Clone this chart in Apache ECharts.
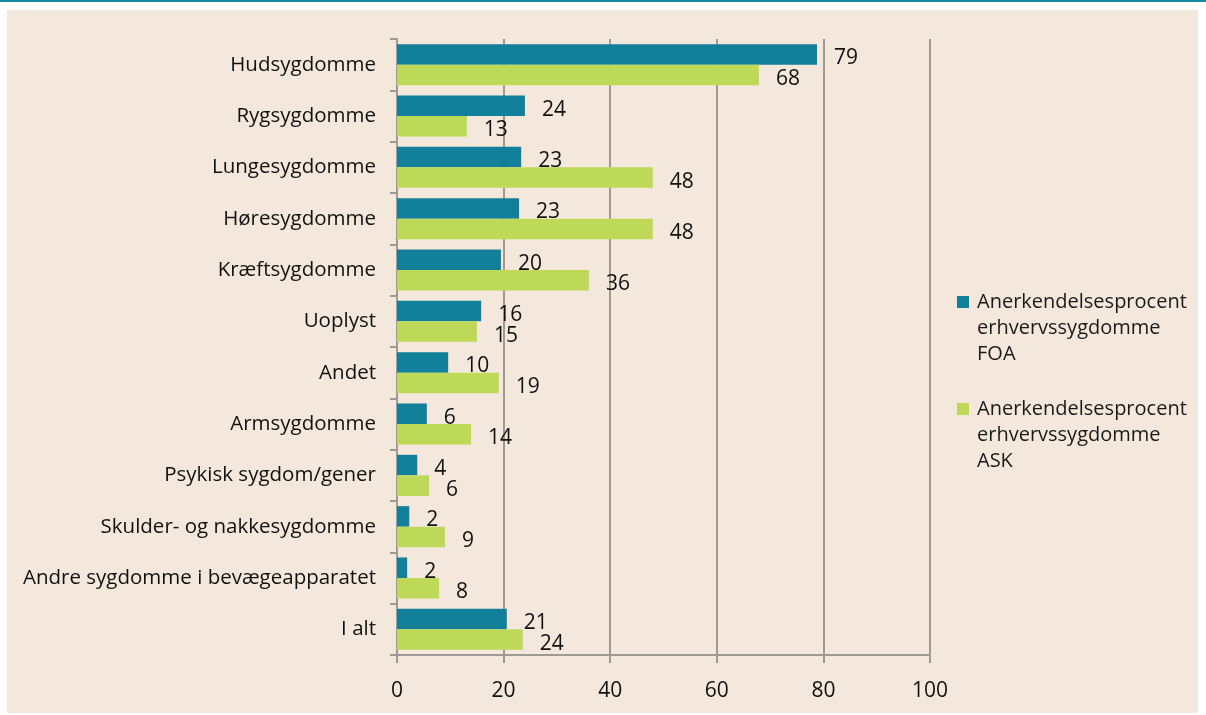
<!DOCTYPE html>
<html>
<head>
<meta charset="utf-8">
<script src="https://cdn.jsdelivr.net/npm/echarts@6/dist/echarts.min.js"></script>
<style>
  html, body { margin: 0; padding: 0; background: #fff; }
  #topline { position: absolute; left: 0; top: 0; width: 1206px; height: 2px; background: #1a8aa2; }
  #main { position: absolute; left: 7px; top: 10px; width: 1191px; height: 703px; background: #f4e8dc; }
</style>
</head>
<body>
<div id="topline"></div>
<div id="main"></div>
<script>
// kategorier (oppefra og ned)
var categories = ["Hudsygdomme", "Rygsygdomme", "Lungesygdomme", "Høresygdomme", "Kræftsygdomme",
    "Uoplyst", "Andet", "Armsygdomme", "Psykisk sygdom/gener", "Skulder- og nakkesygdomme",
    "Andre sygdomme i bevægeapparatet", "I alt"];
// aflæst fra søjlernes længde, vises afrundet
var foa = [78.8, 24.0, 23.3, 22.9, 19.5, 15.8, 9.6, 5.6, 3.8, 2.3, 1.9, 20.6];
var ask = [67.9, 13.1, 48.0, 48.0, 36.0, 15.0, 19.1, 13.9, 6.0, 9.0, 7.9, 23.6];
var seriesNames = ["Anerkendelsesprocent\nerhvervssygdomme\nFOA", "Anerkendelsesprocent\nerhvervssygdomme\nASK"];
var xTicks = [0, 20, 40, 60, 80, 100];

var FONT = "Open Sans";
var LH = 26;
var gray = "#a09a93";

var myChart = echarts.init(document.getElementById('main'));

// to tomme linjer foran, så ikonet står ud for første linje
function legendFor(i, center) {
    return {
        data: [seriesNames[i]],
        left: 950, top: center - 2.5 * LH,
        padding: 0,
        itemWidth: 12, itemHeight: 12,
        icon: 'rect',
        selectedMode: false,
        formatter: function (name) { return "\n\n" + name; },
        textStyle: { fontFamily: FONT, fontSize: 20, color: '#1a1a1a', lineHeight: LH, padding: [0, 0, 0, 3] }
    };
}

var labelOpt = {
    show: true, position: 'right', distance: 17, offset: [0, 4],
    fontFamily: FONT, fontSize: 21, color: '#111',
    formatter: function (p) { return Math.round(p.value); }
};

myChart.setOption({
    animation: false,
    textStyle: { fontFamily: FONT },
    legend: [legendFor(0, 292), legendFor(1, 399)],
    grid: { left: 390, top: 29, width: 533, height: 616, containLabel: false },
    xAxis: {
        type: 'value', min: xTicks[0], max: xTicks[xTicks.length - 1], interval: 20,
        axisLine: { show: true, lineStyle: { color: gray, width: 2 } },
        axisTick: { show: true, length: 8, lineStyle: { color: gray, width: 2 } },
        axisLabel: { margin: 26, fontFamily: FONT, fontSize: 21, color: '#111' },
        splitLine: { show: true, lineStyle: { color: gray, width: 2 } }
    },
    yAxis: {
        type: 'category', data: categories, inverse: true,
        axisLine: { show: true, lineStyle: { color: gray, width: 2 } },
        axisTick: { show: true, length: 7, alignWithLabel: false, lineStyle: { color: gray, width: 2 } },
        axisLabel: { margin: 21, fontFamily: FONT, fontSize: 20.5, color: '#111' }
    },
    series: [
        { name: seriesNames[0], type: 'bar', data: foa, barGap: 0, barCategoryGap: '20%',
          itemStyle: { color: '#127f9b' }, label: labelOpt },
        { name: seriesNames[1], type: 'bar', data: ask, barGap: 0, barCategoryGap: '20%',
          itemStyle: { color: '#bed957' }, label: labelOpt }
    ]
});
</script>
</body>
</html>
